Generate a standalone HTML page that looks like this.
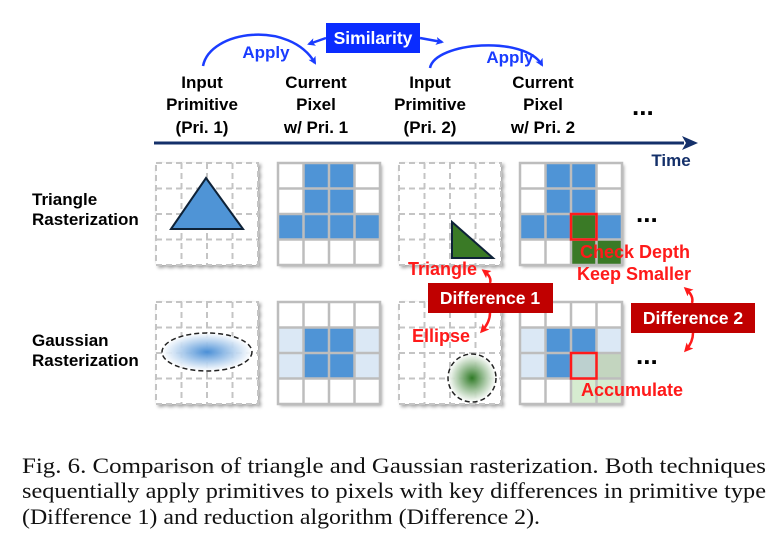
<!DOCTYPE html>
<html><head><meta charset="utf-8"><style>
html,body{margin:0;padding:0;background:#fff;}
svg{display:block;}
.h{font-family:"Liberation Sans",sans-serif;font-weight:bold;font-size:17px;fill:#000;text-anchor:middle;}
.r{font-family:"Liberation Sans",sans-serif;font-weight:bold;font-size:18px;fill:#ff1a1a;}
.w{font-family:"Liberation Sans",sans-serif;font-weight:bold;font-size:17.5px;fill:#fff;text-anchor:middle;}
.c{font-family:"Liberation Serif",serif;font-size:22px;fill:#111;}
.d{font-family:"Liberation Sans",sans-serif;font-weight:bold;font-size:26px;fill:#000;}
</style></head><body>
<svg width="774" height="539" viewBox="0 0 774 539" xmlns="http://www.w3.org/2000/svg">
<defs>
<marker id="ab" markerWidth="8" markerHeight="8" refX="6" refY="4" orient="auto" markerUnits="userSpaceOnUse"><path d="M0,0 L8,4 L0,8 L2,4z" fill="#1a3cff"/></marker>
<marker id="ar" markerWidth="9" markerHeight="9" refX="6" refY="4.5" orient="auto" markerUnits="userSpaceOnUse"><path d="M0,0 L9,4.5 L0,9 L2,4.5z" fill="#ff1a1a"/></marker>
<radialGradient id="gb"><stop offset="0" stop-color="#4a8fd6"/><stop offset="1" stop-color="#fff" stop-opacity="0.9"/></radialGradient>
<radialGradient id="gg"><stop offset="0" stop-color="#2f7a26"/><stop offset="1" stop-color="#fff" stop-opacity="0.9"/></radialGradient>
<filter id="sh" x="-10%" y="-10%" width="130%" height="130%"><feDropShadow dx="2" dy="2" stdDeviation="1.5" flood-color="#000" flood-opacity="0.35"/></filter>
<g id="solid"><rect x="0" y="0" width="102" height="102" fill="none" stroke="#bdbdbd" stroke-width="2.5"/>
<path d="M25.5,0V102M51,0V102M76.5,0V102M0,25.5H102M0,51H102M0,76.5H102" stroke="#bdbdbd" stroke-width="2.5"/></g>
<g id="dash"><rect x="0" y="0" width="102" height="102" fill="#fff" stroke="#c4c4c4" stroke-width="2" stroke-dasharray="6,4"/>
<path d="M25.5,0V102M51,0V102M76.5,0V102M0,25.5H102M0,51H102M0,76.5H102" stroke="#c4c4c4" stroke-width="2" stroke-dasharray="6,4"/></g>
</defs>

<!-- header -->
<rect x="326" y="23" width="94" height="30" fill="#0a2cff"/>
<text x="373" y="44" class="w">Similarity</text>
<line x1="326" y1="38" x2="309" y2="44" stroke="#1a3cff" stroke-width="2.5" marker-end="url(#ab)"/>
<line x1="420" y1="38" x2="442" y2="42" stroke="#1a3cff" stroke-width="2.5" marker-end="url(#ab)"/>
<path d="M203,66 C210,30 290,20 315,63" fill="none" stroke="#1a3cff" stroke-width="2.5" marker-end="url(#ab)"/>
<text x="266" y="58" class="h" style="fill:#1a3cff">Apply</text>
<path d="M430,68 C435,42 525,35 542,65" fill="none" stroke="#1a3cff" stroke-width="2.5" marker-end="url(#ab)"/>
<text x="510" y="63" class="h" style="fill:#1a3cff">Apply</text>

<text x="202" y="88" class="h">Input</text><text x="202" y="110" class="h">Primitive</text><text x="202" y="133" class="h">(Pri. 1)</text>
<text x="316" y="88" class="h">Current</text><text x="316" y="110" class="h">Pixel</text><text x="316" y="133" class="h">w/ Pri. 1</text>
<text x="430" y="88" class="h">Input</text><text x="430" y="110" class="h">Primitive</text><text x="430" y="133" class="h">(Pri. 2)</text>
<text x="543" y="88" class="h">Current</text><text x="543" y="110" class="h">Pixel</text><text x="543" y="133" class="h">w/ Pri. 2</text>
<text x="632" y="115" class="d">...</text>
<line x1="154" y1="143" x2="684" y2="143" stroke="#14306a" stroke-width="3"/>
<path d="M698,143 L682,136 L686,143 L682,150z" fill="#14306a"/>
<text x="671" y="166" class="h" style="fill:#14306a">Time</text>

<text x="32" y="205" class="h" style="text-anchor:start">Triangle</text>
<text x="32" y="225" class="h" style="text-anchor:start">Rasterization</text>
<text x="32" y="346" class="h" style="text-anchor:start">Gaussian</text>
<text x="32" y="366" class="h" style="text-anchor:start">Rasterization</text>

<!-- top row -->
<g transform="translate(156,163)" filter="url(#sh)"><use href="#dash"/></g>
<polygon points="171,229 206,178 243,229" fill="#4f94d6" stroke="#0e2238" stroke-width="2"/>

<g transform="translate(278,163)">
<rect x="0" y="0" width="102" height="102" fill="#fff" filter="url(#sh)"/>
<rect x="25.5" y="0" width="51" height="51" fill="#4f94d6"/>
<rect x="0" y="51" width="102" height="25.5" fill="#4f94d6"/>
<use href="#solid"/></g>

<g transform="translate(399,163)" filter="url(#sh)"><use href="#dash"/></g>
<polygon points="452,222 452,258 493,258" fill="#3a7a26" stroke="#0e2238" stroke-width="2"/>

<g transform="translate(520,163)">
<rect x="0" y="0" width="102" height="102" fill="#fff" filter="url(#sh)"/>
<rect x="25.5" y="0" width="51" height="51" fill="#4f94d6"/>
<rect x="0" y="51" width="102" height="25.5" fill="#4f94d6"/>
<rect x="51" y="51" width="25.5" height="25.5" fill="#3a7a26"/>
<rect x="51" y="76.5" width="51" height="25.5" fill="#3a7a26"/>
<use href="#solid"/>
<rect x="51" y="51" width="25.5" height="25.5" fill="none" stroke="#ff1a1a" stroke-width="2.5"/></g>
<text x="636" y="222" class="d">...</text>

<!-- bottom row -->
<g transform="translate(156,302)" filter="url(#sh)"><use href="#dash"/></g>
<ellipse cx="207" cy="352" rx="45" ry="19" fill="url(#gb)" stroke="#222" stroke-width="1.5" stroke-dasharray="5,3"/>

<g transform="translate(278,302)">
<rect x="0" y="0" width="102" height="102" fill="#fff" filter="url(#sh)"/>
<rect x="0" y="25.5" width="102" height="51" fill="#dbe8f5"/>
<rect x="25.5" y="25.5" width="51" height="51" fill="#4f94d6"/>
<use href="#solid"/></g>

<g transform="translate(399,302)" filter="url(#sh)"><use href="#dash"/></g>
<circle cx="472" cy="378" r="24" fill="url(#gg)" stroke="#222" stroke-width="1.5" stroke-dasharray="5,3"/>

<g transform="translate(520,302)">
<rect x="0" y="0" width="102" height="102" fill="#fff" filter="url(#sh)"/>
<rect x="0" y="25.5" width="102" height="51" fill="#dbe8f5"/>
<rect x="25.5" y="25.5" width="51" height="25.5" fill="#4f94d6"/>
<rect x="25.5" y="51" width="25.5" height="25.5" fill="#4f94d6"/>
<rect x="51" y="51" width="25.5" height="25.5" fill="#bcd0cf"/>
<rect x="76.5" y="51" width="25.5" height="25.5" fill="#c3d5bf"/>
<rect x="51" y="76.5" width="51" height="25.5" fill="#d6ecd0"/>
<use href="#solid"/>
<rect x="51" y="51" width="25.5" height="25.5" fill="none" stroke="#ff1a1a" stroke-width="2.5"/></g>
<text x="636" y="364" class="d">...</text>

<!-- labels -->
<text x="408" y="275" class="r">Triangle</text>
<text x="412" y="342" class="r">Ellipse</text>
<text x="580" y="258" class="r">Check Depth</text>
<text x="577" y="280" class="r">Keep Smaller</text>
<text x="581" y="396" class="r">Accumulate</text>

<rect x="428" y="283" width="125" height="30" fill="#c00000"/>
<text x="490" y="304" class="w">Difference 1</text>
<rect x="631" y="303" width="124" height="30" fill="#c00000"/>
<text x="693" y="324" class="w">Difference 2</text>

<path d="M490,283 Q492,277 484,271" fill="none" stroke="#ff1a1a" stroke-width="2.5" marker-end="url(#ar)"/>
<path d="M490,313 Q490,322 482,331" fill="none" stroke="#ff1a1a" stroke-width="2.5" marker-end="url(#ar)"/>
<path d="M692,303 Q694,296 686,289" fill="none" stroke="#ff1a1a" stroke-width="2.5" marker-end="url(#ar)"/>
<path d="M693,333 Q693,342 686,350" fill="none" stroke="#ff1a1a" stroke-width="2.5" marker-end="url(#ar)"/>

<!-- caption -->
<text x="22" y="473" class="c" textLength="744" lengthAdjust="spacingAndGlyphs">Fig. 6.  Comparison of triangle and Gaussian rasterization. Both techniques</text>
<text x="22" y="498" class="c" textLength="744" lengthAdjust="spacingAndGlyphs">sequentially apply primitives to pixels with key differences in primitive type</text>
<text x="22" y="524" class="c" textLength="518" lengthAdjust="spacingAndGlyphs">(Difference 1) and reduction algorithm (Difference 2).</text>
</svg>
</body></html>
